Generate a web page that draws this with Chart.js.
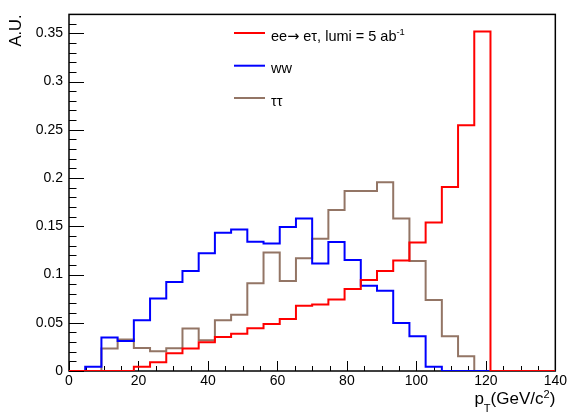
<!DOCTYPE html>
<html><head><meta charset="utf-8">
<script src="https://cdn.jsdelivr.net/npm/chart.js@4/dist/chart.umd.min.js"></script>
<style>html,body{margin:0;padding:0;background:#fff;overflow:hidden}#wrap{width:569px;height:419px;position:relative}</style>
</head><body><div id="wrap"><canvas id="c" width="569" height="419"></canvas></div>
<script>
// ---- data ----
const xMin = 0, xMax = 140, nBins = 30;
const xTicks = [0, 20, 40, 60, 80, 100, 120, 140];
const yTicks = [0, 0.05, 0.1, 0.15, 0.2, 0.25, 0.3, 0.35];
const yMax = 0.3696;
const seriesLabels = ["ee\u2192 e\u03c4, lumi = 5 ab^{-1}", "ww", "\u03c4\u03c4"];
const seriesColors = ["#ff0000", "#0000ff", "#937565"];
const eeTau = [0, 0, 0, 0, 0.0044, 0.009, 0.0185, 0.0232, 0.0299, 0.0352, 0.0386, 0.0443, 0.0487, 0.054, 0.0677,
  0.069, 0.0742, 0.0849, 0.0943, 0.1037, 0.1144, 0.1332, 0.154, 0.1908, 0.2547, 0.352, 0, 0, 0, 0];
const ww = [0, 0.0044, 0.0346, 0.031, 0.0527, 0.0752, 0.0923, 0.1037, 0.1221, 0.1433, 0.1467, 0.1339, 0.1322, 0.1493, 0.158,
  0.1114, 0.1336, 0.1151, 0.0883, 0.0832, 0.0497, 0.0359, 0.0044, 0, 0, 0, 0, 0, 0, 0];
const tautau = [0, 0, 0.0232, 0.0326, 0.0238, 0.0205, 0.0235, 0.044, 0.0319, 0.0527, 0.0584, 0.0909, 0.1228, 0.0933, 0.1168,
  0.1372, 0.1668, 0.1866, 0.1866, 0.1956, 0.158, 0.114, 0.0735, 0.0359, 0.0154, 0, 0, 0, 0, 0];
const xTitle = "p_{T}(GeV/c^{2})";
const yTitle = "A.U.";

const FONT = '"Liberation Sans", Arial, Helvetica, sans-serif';
const SYMFONT = '"DejaVu Sans", sans-serif';
const binW = (xMax - xMin) / nBins;
function histPoints(vals) {
  const pts = vals.map((v, k) => ({x: xMin + k * binW, y: v}));
  pts.push({x: xMax, y: vals[vals.length - 1]});
  return pts;
}

function richSegments(str) {
  const segs = []; let i = 0, buf = '';
  const flush = () => { if (buf) { segs.push({t: buf, m: 0}); buf = ''; } };
  while (i < str.length) {
    const c = str[i];
    if ((c === '^' || c === '_') && str[i + 1] === '{') {
      flush();
      const j = str.indexOf('}', i + 2);
      segs.push({t: str.slice(i + 2, j), m: c === '^' ? 1 : -1});
      i = j + 1;
    } else if (c === '\u2192') {
      flush();
      segs.push({t: c, m: 0, sym: true});
      i++;
    } else { buf += c; i++; }
  }
  flush();
  return segs;
}
function drawRich(ctx, str, x, y, size, align) {
  const segs = richSegments(str);
  let w = 0;
  segs.forEach(s => {
    s.fs = s.m ? size * 0.65 : size;
    s.font = s.fs + 'px ' + (s.sym ? SYMFONT : FONT);
    ctx.font = s.font; s.w = ctx.measureText(s.t).width; w += s.w;
  });
  let cx = align === 'right' ? x - w : x;
  ctx.textAlign = 'left'; ctx.textBaseline = 'alphabetic';
  segs.forEach(s => {
    ctx.font = s.font;
    const dy = s.m === 1 ? -size * 0.36 : (s.m === -1 ? size * 0.45 : 0);
    ctx.fillText(s.t, cx, y + dy);
    cx += s.w;
  });
}

const framePlugin = {
  id: 'frame',
  beforeDatasetsDraw(chart) {
    const {ctx, chartArea: a, scales: {x, y}} = chart;
    ctx.save();
    ctx.strokeStyle = '#000';
    ctx.lineWidth = 1;
    ctx.beginPath();
    for (let i = 0; i <= 36; i++) {
      const v = i / 100;
      const py = Math.round(y.getPixelForValue(v)) + 0.5;
      const len = (i % 5 === 0) ? 15 : 7.5;
      ctx.moveTo(a.left, py); ctx.lineTo(a.left + len, py);
    }
    for (let v = xMin; v <= xMax; v += 5) {
      const px = Math.round(x.getPixelForValue(v)) + 0.5;
      const len = (v % 20 === 0) ? 10 : 5;
      ctx.moveTo(px, a.bottom); ctx.lineTo(px, a.bottom - len);
    }
    ctx.stroke();
    ctx.lineWidth = 1.5;
    ctx.strokeRect(a.left, a.top, a.right - a.left, a.bottom - a.top);
    ctx.restore();
  },
  afterDraw(chart) {
    const {ctx, chartArea: a} = chart;
    ctx.save();
    ctx.fillStyle = '#000';
    drawRich(ctx, xTitle, a.right, 404, 17, 'right');
    const rows = [33, 65.7, 98];
    chart.data.datasets.forEach((ds, i) => {
      ctx.strokeStyle = ds.borderColor; ctx.lineWidth = 2;
      ctx.beginPath(); ctx.moveTo(234, rows[i]); ctx.lineTo(265, rows[i]); ctx.stroke();
      ctx.fillStyle = '#000';
      drawRich(ctx, seriesLabels[i], 271, rows[i] + 7.5, 14.5, 'left');
    });
    ctx.restore();
  }
};

const datasets = [eeTau, ww, tautau].map((vals, i) => ({
  label: seriesLabels[i].replace(/\^\{(.*?)\}/g, '$1'),
  data: histPoints(vals),
  borderColor: seriesColors[i],
  backgroundColor: seriesColors[i],
  borderWidth: 2,
  stepped: 'before',
  pointRadius: 0,
  fill: false,
  tension: 0
}));

new Chart(document.getElementById('c'), {
  type: 'line',
  data: {datasets},
  plugins: [framePlugin],
  options: {
    responsive: false,
    animation: false,
    devicePixelRatio: 1,
    layout: {padding: {top: 4, right: 13, left: 0, bottom: 0}},
    plugins: {legend: {display: false}, tooltip: {enabled: false}},
    scales: {
      x: {
        type: 'linear', min: xMin, max: xMax,
        afterBuildTicks: s => { s.ticks = xTicks.map(v => ({value: v})); },
        afterFit: s => { s.height = 48; },
        ticks: {font: {family: FONT, size: 14}, color: '#000', padding: 2, maxRotation: 0, autoSkip: false,
          callback: v => String(v)},
        grid: {display: false, drawTicks: false},
        border: {display: false}
      },
      y: {
        type: 'linear', min: 0, max: yMax,
        afterBuildTicks: s => { s.ticks = yTicks.map(v => ({value: v})); },
        afterFit: s => { s.width = 69; },
        ticks: {font: {family: FONT, size: 14}, color: '#000', padding: 6, autoSkip: false,
          callback: v => String(+v.toFixed(2))},
        grid: {display: false, drawTicks: false},
        border: {display: false},
        title: {display: true, text: yTitle, align: 'end', color: '#000',
          font: {family: FONT, size: 16.5}, padding: {top: 7, bottom: 0}}
      }
    }
  }
});
</script>
</body></html>
